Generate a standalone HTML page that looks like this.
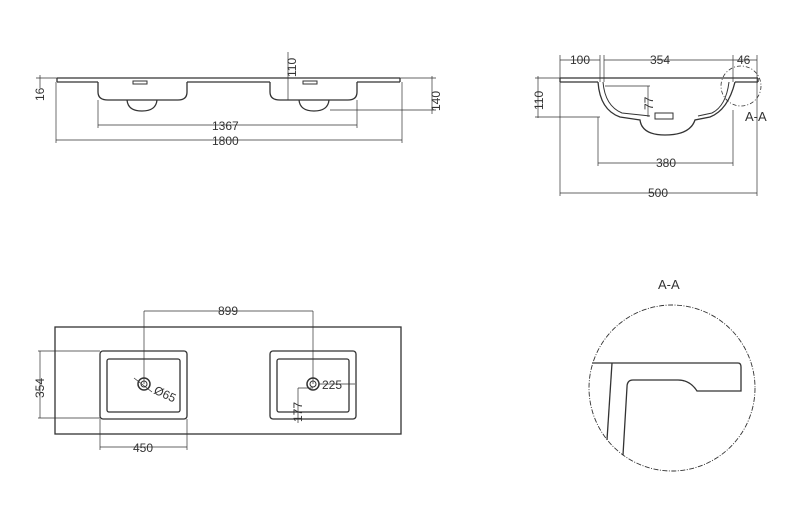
<!DOCTYPE html>
<html><head><style>body{margin:0;background:#fff}svg{display:block}text{font-family:"Liberation Sans",sans-serif;fill:#333;stroke:none;font-size:12px}</style></head>
<body>
<svg width="800" height="523" viewBox="0 0 800 523" xmlns="http://www.w3.org/2000/svg" fill="none" stroke="#333" stroke-width="1">
<!-- Top-left side view -->
<g>
<path d="M57 78 H400 M57 82 H98 M187 82 H270 M357 82 H400 M400 78 V82 M57 78 V82" stroke-width="1.3"/>
<path d="M98 82 V92 Q98 100 108 100 H178 Q187 100 187 92 V82" stroke-width="1.3"/>
<path d="M127 100 Q128 111 142 111 Q156 111 157 100" stroke-width="1.3"/>
<rect x="133" y="81" width="14" height="3" stroke-width="1"/>
<path d="M270 82 V92 Q270 100 280 100 H348 Q357 100 357 92 V82" stroke-width="1.3"/>
<path d="M299 100 Q300 111 314 111 Q328 111 329 100" stroke-width="1.3"/>
<rect x="303" y="81" width="14" height="3"/>
<path d="M40 75 V88 M36 78 H57" stroke-width="0.7"/>
<path d="M98 100 V128 M357 100 V128 M98 125 H357 M56 82 V143 M402 82 V143 M56 140 H402 M288 52 V100 M400 78 H436 M330 110 H436 M432 76 V114" stroke-width="0.7"/>
<text x="212" y="130">1367</text>
<text x="212" y="145">1800</text>
<text transform="translate(44,101) rotate(-90)">16</text>
<text transform="translate(296,77) rotate(-90)">110</text>
<text transform="translate(440,111) rotate(-90)">140</text>
</g>
<!-- Top-right section -->
<g>
<path d="M560 78 H758 M560 82 H598 M735 82 H758 M560 78 V82 M758 78 V82" stroke-width="1.3"/>
<path d="M598 82 Q600 110 620 117 L640 120 Q642 135 665 135 Q690 135 695 120 L710 117 Q728 110 735 82" stroke-width="1.3"/>
<path d="M603 82 Q605 106 622 113 L650 116 M698 116 L712 113 Q726 106 729 82" stroke-width="1"/>
<rect x="655" y="113" width="18" height="6"/>
<circle cx="741" cy="86" r="20" stroke-dasharray="4 2 1 2" stroke-width="0.8"/>
<path d="M560 55 V196 M757 55 V196 M600 55 V82 M604 55 V82 M733 55 V82 M560 60 H600 M604 60 H733 M733 60 H757 M535 78 H560 M535 117 H600 M538 76 V118 M605 86 H650 M648 86 V117 M598 117 V166 M733 110 V166 M598 163 H733 M560 193 H757" stroke-width="0.7"/>
<text x="570" y="64">100</text>
<text x="650" y="64">354</text>
<text x="737" y="64">46</text>
<text transform="translate(543,110) rotate(-90)">110</text>
<text transform="translate(653,110) rotate(-90)">77</text>
<text x="656" y="167">380</text>
<text x="648" y="197">500</text>
<text x="745" y="121" style="font-size:13px">A-A</text>
</g>
<!-- Bottom-left top view -->
<g>
<rect x="55" y="327" width="346" height="107" stroke-width="1.3"/>
<rect x="100" y="351" width="87" height="68" rx="3" stroke-width="1.3"/>
<rect x="107" y="359" width="73" height="53" rx="2" stroke-width="1.3"/>
<rect x="270" y="351" width="86" height="68" rx="3" stroke-width="1.3"/>
<rect x="277" y="359" width="72" height="53" rx="2" stroke-width="1.3"/>
<circle cx="144" cy="384" r="6" stroke-width="1.5"/><circle cx="144" cy="384" r="3"/>
<circle cx="313" cy="384" r="6" stroke-width="1.5"/><circle cx="313" cy="384" r="3"/>
<path d="M144 311 V384 M313 311 V384 M144 311 H313 M38 351 H100 M38 418 H100 M40 351 V418 M100 419 V450 M187 419 V450 M100 447 H187 M319 384 H355 M298 388 H313 M298 388 V423 M134 378 L152 392" stroke-width="0.7"/>
<text x="218" y="315">899</text>
<text transform="translate(44,398) rotate(-90)">354</text>
<text x="133" y="452">450</text>
<text x="322" y="389">225</text>
<text transform="translate(153,393) rotate(25)">Ø65</text>
<text transform="translate(302,422) rotate(-90)">177</text>
</g>
<!-- A-A detail -->
<g>
<text x="658" y="289" style="font-size:13px">A-A</text>
<circle cx="672" cy="388" r="83" stroke-dasharray="5 1.5 1 1.5" stroke-width="0.9"/>
<path d="M592 363 H738 Q741 363 741 367 V391 H697 Q690 380 678 380 H633 Q627 380 627 387 L623 455" stroke-width="1.3"/>
<path d="M612 363 L607 440" stroke-width="1.3"/>
</g>
</svg>
</body></html>
